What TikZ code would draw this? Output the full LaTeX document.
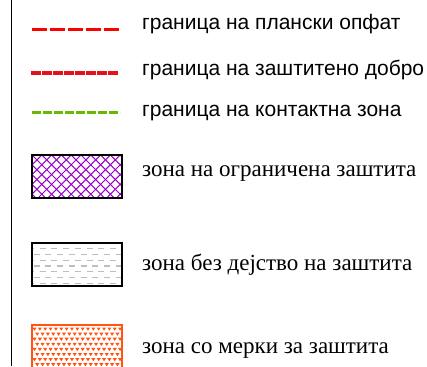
\documentclass[tikz,border=0pt]{standalone}
\usepackage{fontspec}
\setmainfont{Liberation Serif}
\newfontfamily\lsans{Liberation Sans}
\definecolor{lred}{HTML}{FF0000}
\definecolor{lred2}{HTML}{E8101A}
\definecolor{lgreen}{HTML}{66BB00}
\definecolor{lpurple}{HTML}{9900CC}
\definecolor{lgrey}{HTML}{BDBDBD}
\definecolor{lorange}{HTML}{FF5511}
\tikzset{
  sanslabel/.style={anchor=base west, inner sep=0pt, font=\lsans\fontsize{21}{25}\selectfont},
  seriflabel/.style={anchor=base west, inner sep=0pt, font=\fontsize{23}{27}\selectfont},
  legbox/.style={draw=black, line width=2pt},
}
\begin{document}
\begin{tikzpicture}[x=1pt,y=-1pt]
\useasboundingbox (0,0) rectangle (427,366);
% left frame line
\coordinate (ftop) at (11.7,0);
\coordinate (fbot) at (11.7,366);
\draw[line width=1.5pt] (ftop) -- (fbot);

% line samples
\coordinate (l1a) at (32,29.7); \coordinate (l1b) at (119,29.7);
\coordinate (l2a) at (31,73); \coordinate (l2b) at (119,73);
\coordinate (l3a) at (32,113); \coordinate (l3b) at (120,113);
\draw[lred, line width=3pt, dash pattern=on 14.5pt off 3.5pt] (l1a) -- (l1b);
\draw[lred2, line width=4pt, dash pattern=on 9.5pt off 1.5pt] (l2a) -- (l2b);
\draw[lgreen, line width=3pt, dash pattern=on 9pt off 2pt] (l3a) -- (l3b);

\node[sanslabel] (t1) at (142,29.5) {граница на плански опфат};
\node[sanslabel] (t2) at (142,75.5) {граница на заштитено добро};
\node[sanslabel] (t3) at (142,116.5) {граница на контактна зона};

% purple crosshatch box
\begin{scope}
  \clip (32,155) rectangle (121.5,197.5);
  \foreach \i in {-6,...,16} {
    \draw[lpurple, line width=1pt] (32+\i*9.8,155) -- ++(45,45);
    \draw[lpurple, line width=1pt] (32+\i*9.8,155) -- ++(-45,45);
  }
\end{scope}
\draw[legbox] (32,155) rectangle (121.5,197.5);
\node[seriflabel] (t4) at (142,176.5) {зона на ограничена заштита};

% grey dashed box
\begin{scope}
  \clip (32,243) rectangle (121.5,285.5);
  \foreach \r in {0,...,6} {
    \pgfmathsetmacro{\yy}{248.8+\r*5.75}
    \pgfmathsetmacro{\xo}{mod(\r,2)==0 ? 28 : 22}
    \draw[lgrey, line width=1.2pt, dash pattern=on 6pt off 5.7pt] (\xo,\yy) -- (125,\yy);
  }
\end{scope}
\draw[legbox] (32,243) rectangle (121.5,285.5);
\node[seriflabel] (t5) at (142,270) {зона без дејство на заштита};

% orange triangle box
\begin{scope}
  \clip (32,325) rectangle (121.5,370);
  \foreach \r in {0,...,8} {
    \pgfmathsetmacro{\yy}{327.5+\r*5.1}
    \pgfmathsetmacro{\xo}{mod(\r,2)==0 ? 34.5 : 37.2}
    \foreach \c in {0,...,17} {
      \fill[lorange] (\xo+\c*5.35-2.1,\yy) -- (\xo+\c*5.35+2.1,\yy) -- (\xo+\c*5.35,\yy+3.2) -- cycle;
    }
  }
\end{scope}
\draw[lorange, line width=2pt] (32,370) -- (32,325) -- (121.5,325) -- (121.5,370);
\node[seriflabel] (t6) at (142,353) {зона со мерки за заштита};
\end{tikzpicture}
\end{document}
